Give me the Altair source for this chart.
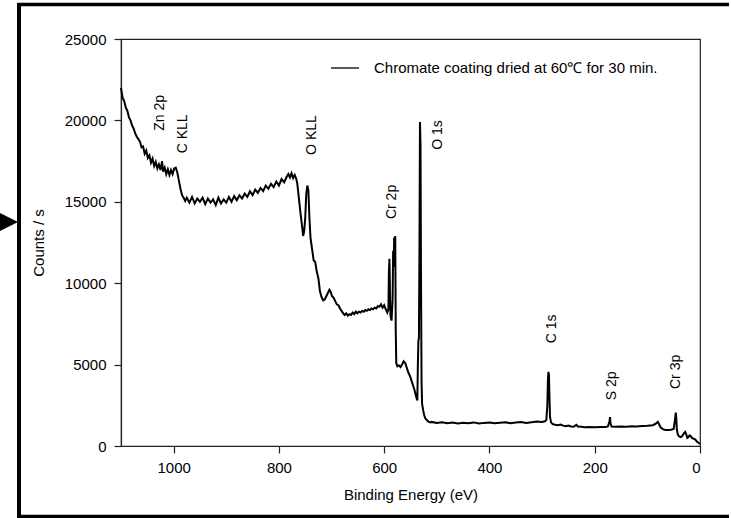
import altair as alt
import pandas as pd

# Binding energy (eV) and intensity (counts/s)
energy = [
    1100, 1097, 1094, 1091, 1088, 1085, 1082, 1079, 1076, 1073, 1070, 1067, 1064, 1061, 1058,
    1055, 1052, 1049, 1046, 1043, 1040, 1037, 1034, 1031, 1028, 1025, 1022, 1020, 1017, 1014,
    1011, 1008, 1005, 1002, 999, 996, 993, 990, 987, 984, 981, 978,
    975, 970, 965, 960, 955, 950, 945, 940, 935, 930, 925, 920, 915, 910, 905, 900, 895, 890,
    885, 880, 875, 870, 865, 860, 855, 850, 845, 840, 835, 830, 825, 820, 815, 810, 805, 800,
    795, 790, 785, 782, 779, 776, 773, 770, 767, 765, 762, 759, 756, 754, 752, 750, 748, 746,
    744, 742, 740, 737, 734, 731, 728, 725, 722, 719, 716, 713, 710, 707, 704, 702, 699, 696,
    693, 690, 687, 684, 681, 678, 675, 672, 669, 666, 663, 660, 657, 654, 651, 648, 645, 642,
    639, 636, 633, 630, 627, 624, 621, 618, 615, 612, 609, 606, 603, 600, 597, 594, 592, 591,
    590, 589, 588, 586, 584, 583, 582, 581, 580, 579, 578, 577, 575, 572, 569, 566, 563, 560,
    557, 554, 551, 548, 545, 542, 539, 537, 536, 535, 534, 533, 532, 531, 530, 529, 528, 526,
    524, 522, 519, 516, 512,
    510, 500, 490, 480, 470, 460, 450, 440, 430, 420, 410, 400, 390, 380, 370, 360, 350, 340,
    330, 320, 310, 300, 295, 292, 290, 289, 288, 287, 286, 285, 283, 280, 275, 270, 265, 260,
    255, 250, 245, 240, 235, 232, 225, 220, 210, 200, 190, 180, 175, 172, 171, 170, 168, 160,
    150, 140, 130, 120, 110, 100, 90, 85, 80, 78, 75, 70, 65, 60, 55, 50, 48, 46, 45, 44, 42,
    40, 37, 34, 30, 28, 26, 24, 22, 20, 18, 15, 12, 9, 6, 3, 1, 0,
]
counts = [
    22000, 21400, 21200, 20800, 20600, 20200, 20000, 19700, 19500, 19200, 19000, 18850, 18700, 18350, 18400,
    17950, 18150, 17700, 17850, 17400, 17650, 17200, 17450, 17050, 17300, 16950, 17500, 16850, 17100, 16700,
    17000, 16650, 16950, 16700, 17050, 17100, 16800, 16300, 15800, 15400, 15250, 15050,
    15250, 14950, 15300, 14900, 15200, 15000, 15250, 14850, 15200, 14950, 15150, 14800, 15250, 14900, 15150, 14950, 15300, 15000,
    15350, 15100, 15400, 15200, 15500, 15300, 15650, 15400, 15750, 15550, 15850, 15650, 16000, 15800, 16100, 15900, 16250, 16000,
    16400, 16200, 16550, 16700, 16500, 16750, 16450, 16650, 16400, 16100, 15200, 14300, 13500, 12900, 13200, 14000, 15500, 16000,
    15700, 14000, 12800, 12100, 11400, 11300, 10700, 10300, 9500, 9150, 8950, 9000, 9200, 9400, 9600, 9500, 9200, 9100,
    8900, 8700, 8650, 8450, 8300, 8150, 8050, 8150, 8000, 8100, 8050, 8200, 8100, 8250, 8150, 8250, 8200, 8300,
    8250, 8350, 8300, 8400, 8350, 8450, 8400, 8500, 8450, 8600, 8550, 8700, 8500, 8650, 8400, 8200, 8400, 10700,
    11500, 9500, 8000, 7700, 9000, 12000, 11000, 12800, 11500, 12900, 7000, 5100, 4900, 4950, 4850, 5000, 5200, 5100,
    4800, 4500, 4300, 4000, 3700, 3400, 3000, 2800, 5000, 6500, 6600, 12000, 19900, 18500, 10000, 4000, 2600, 2200,
    1900, 1700, 1600, 1500, 1450,
    1480, 1420, 1460, 1400, 1440, 1380, 1430, 1400, 1450, 1380, 1420, 1450, 1400, 1430, 1460, 1400, 1440, 1470,
    1420, 1460, 1500, 1480, 1520, 1600, 2500, 4000, 4550, 4400, 3000, 1800, 1450, 1350, 1300, 1280, 1320, 1250,
    1220, 1260, 1200, 1180, 1300, 1200, 1180, 1150, 1170, 1150, 1170, 1160, 1200, 1500, 1780, 1400, 1200, 1180,
    1200, 1190, 1220, 1200, 1230, 1240, 1280, 1350, 1480, 1350, 1150, 1020, 980, 990, 1000, 1050, 1500, 2050, 1700, 1000, 700,
    600, 550, 600, 800, 860, 700, 500, 550, 650, 620, 480, 450, 400, 280, 200, 150, 120,
]

series_name = "Chromate coating dried at 60\u2103 for 30 min."

# Peak annotations
ann_labels = ["Zn 2p", "C KLL", "O KLL", "O 1s", "Cr 2p", "C 1s", "S 2p", "Cr 3p"]
ann_energy = [1025, 983, 738, 497, 586, 281, 167, 46]
ann_counts = [20460, 19170, 19100, 19100, 14990, 7190, 3690, 4550]

x_ticks = [0, 200, 400, 600, 800, 1000]
y_ticks = [0, 5000, 10000, 15000, 20000, 25000]

FONT = "Liberation Sans"

spec_df = pd.DataFrame({"energy": energy, "counts": counts, "series": series_name})
ann_df = pd.DataFrame({"label": ann_labels, "energy": ann_energy, "counts": ann_counts})
deco_df = pd.DataFrame({"k": [0]})

x_enc = alt.X(
    "energy:Q",
    scale=alt.Scale(domain=[0, 1100], reverse=True, nice=False),
    axis=alt.Axis(values=x_ticks, format="d", title="Binding Energy (eV)", grid=False,
                  tickSize=7, labelPadding=7, titlePadding=12),
)
y_enc = alt.Y(
    "counts:Q",
    scale=alt.Scale(domain=[0, 25000], nice=False),
    axis=alt.Axis(values=y_ticks, format="d", title="Counts / s", grid=False,
                  tickSize=7, labelPadding=8, titlePadding=18),
)

line = alt.Chart(spec_df).mark_line(strokeWidth=2, interpolate="linear").encode(
    x=x_enc,
    y=y_enc,
    color=alt.Color(
        "series:N",
        scale=alt.Scale(range=["black"]),
        legend=alt.Legend(
            title=None, orient="none", legendX=209, legendY=14, padding=0,
            symbolType="stroke", symbolSize=784, symbolStrokeWidth=1.3,
            labelFontSize=15, labelFont=FONT, labelColor="black", labelOffset=14,
            labelLimit=0, symbolStrokeColor="black",
        ),
    ),
)

labels = alt.Chart(ann_df).mark_text(
    angle=270, align="center", baseline="middle", fontSize=14, font=FONT, color="black"
).encode(x="energy:Q", y="counts:Q", text="label:N")

# outer thick frame: left, top and bottom sides only
frame_left = alt.Chart(deco_df).mark_rule(color="black", strokeWidth=4).encode(
    x=alt.value(-102), y=alt.value(-34.5), y2=alt.value(479.5))
frame_top = alt.Chart(deco_df).mark_rule(color="black", strokeWidth=3.5).encode(
    x=alt.value(-104), x2=alt.value(608), y=alt.value(-34.5))
frame_bottom = alt.Chart(deco_df).mark_rule(color="black", strokeWidth=3.5).encode(
    x=alt.value(-104), x2=alt.value(608), y=alt.value(477.5))
arrow = alt.Chart(deco_df).mark_point(
    shape="M-1,-1L1,0L-1,1Z", filled=True, color="black", opacity=1, size=400
).encode(x=alt.value(-113), y=alt.value(183))

chart = alt.layer(line, labels, frame_left, frame_top, frame_bottom, arrow).properties(
    width=579, height=407,
    background="white",
    autosize=alt.AutoSizeParams(type="none"),
    padding={"left": 121, "top": 39, "right": 31, "bottom": 72},
).configure_view(stroke="#222", strokeWidth=1.2).configure_axis(
    domainColor="#222", tickColor="#222", labelColor="black", titleColor="black",
    labelFont=FONT, titleFont=FONT, labelFontSize=15, titleFontSize=15,
    titleFontWeight="normal", domainWidth=1.2, tickWidth=1.2,
)

chart.save("out.html", embed_options={"renderer": "svg", "actions": False})
